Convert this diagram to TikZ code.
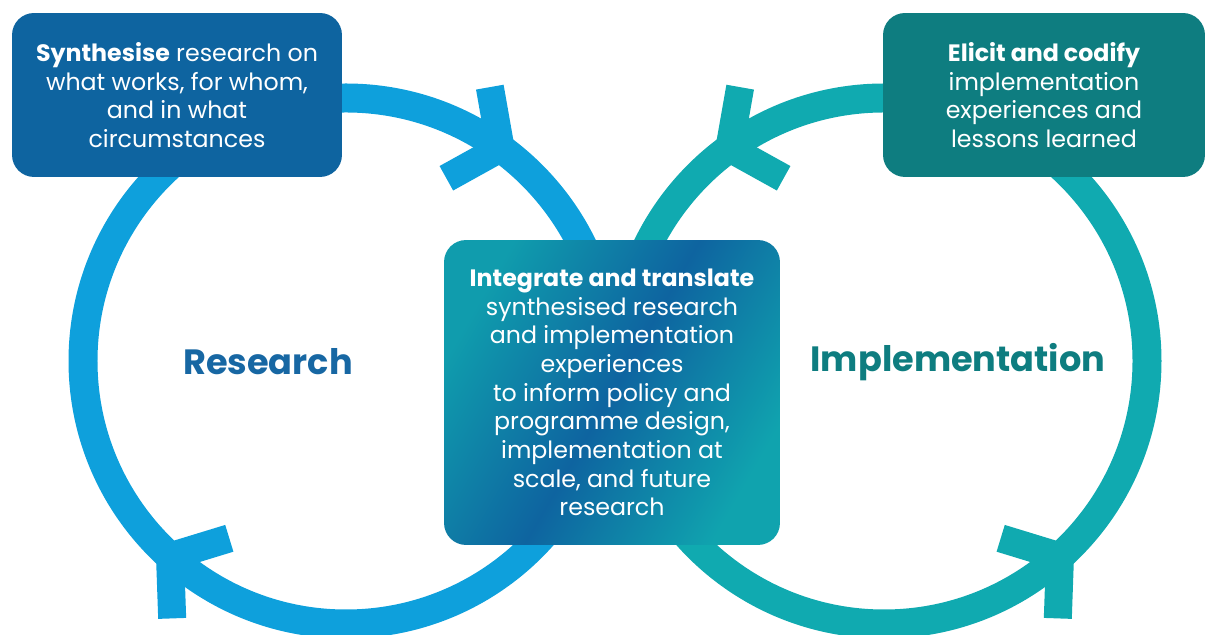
\documentclass[tikz,border=0pt]{standalone}
\usepackage{fontspec}
\setmainfont{Poppins}
\definecolor{ringblue}{HTML}{0EA0DC}
\definecolor{ringteal}{HTML}{10AAB0}
\definecolor{boxblue}{HTML}{0E64A0}
\definecolor{boxteal}{HTML}{0E7D80}
\definecolor{titleblue}{HTML}{1767A3}
\begin{document}
\begin{tikzpicture}[x=0.02cm,y=0.02cm,
    ring/.style={line width=0.58cm},
    barb/.style={line width=0.56cm},
    box/.style={rounded corners=0.44cm, text=white, align=center,
        font=\fontsize{13.5pt}{16.3pt}\selectfont},
    title/.style={font=\fontsize{20pt}{24pt}\selectfont\bfseries}]
    \useasboundingbox (0,0) rectangle (1208,635);
    % the two cycles
    \draw[ring,ringblue] (346,274) circle (263);
    \draw[ring,ringteal] (884,274) circle (263);
    \begin{scope}[shift={(346,274)}]
        \foreach \v/\p/\q in {54/100/209, 228/17/272}
            \draw[barb,ringblue] (\v:263) ++(\p:62) -- (\v:263) -- ++(\q:62);
    \end{scope}
    \begin{scope}[shift={(884,274)}]
        \foreach \v/\p/\q in {126/80/-29, 312/163/268}
            \draw[barb,ringteal] (\v:263) ++(\p:62) -- (\v:263) -- ++(\q:62);
    \end{scope}
    % boxes
    \node[box, fill=boxblue, minimum width=6.6cm, minimum height=3.28cm] (synth) at (177,540)
        {\textbf{Synthesise} research on\\what works, for whom,\\and in what\\circumstances};
    \node[box, fill=boxteal, minimum width=6.44cm, minimum height=3.28cm] (elicit) at (1044,540)
        {\textbf{Elicit and codify}\\implementation\\experiences and\\lessons learned};
    \node[box, minimum width=6.72cm, minimum height=6.1cm,
        left color=ringteal!80!boxblue, right color=ringteal!90!boxblue,
        middle color=boxblue, shading angle=60] (integrate) at (612,242.5)
        {\textbf{Integrate and translate}\\synthesised research\\and implementation\\experiences\\to inform policy and\\programme design,\\implementation at\\scale, and future\\research};
    % labels
    \node[title, text=titleblue] (research) at (268,273) {Research};
    \node[title, text=boxteal] (implement) at (958,273) {Implementation};
\end{tikzpicture}
\end{document}
